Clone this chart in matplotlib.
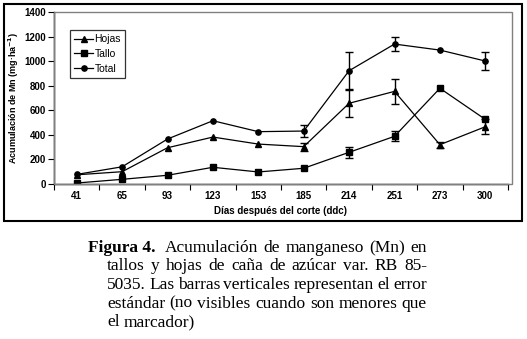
"""Acumulación de Mn en tallos y hojas de caña de azúcar, con leyenda de figura."""

import matplotlib

matplotlib.use("Agg")

import matplotlib.pyplot as plt
import numpy as np
from matplotlib.patches import Rectangle

# Datos
dias = ["41", "65", "93", "123", "153", "185", "214", "251", "273", "300"]
hojas = [75, 100, 295, 382, 325, 304, 657, 754, 320, 466]
tallo = [8, 38, 71, 136, 98, 128, 258, 388, 779, 526]
total = [78, 140, 366, 515, 426, 431, 922, 1139, 1090, 1001]
hojas_err = [0, 0, 0, 0, 0, 32, 110, 102, 24, 61]
tallo_err = [0, 0, 0, 0, 0, 0, 43, 40, 0, 0]
total_err = [0, 0, 0, 0, 0, 50, 150, 57, 0, 72]

caption_lines = [
    "Acumulación de manganeso (Mn) en",
    "tallos y hojas de caña de azúcar var. RB 85-",
    "5035. Las barras verticales representan el error",
    "estándar (no visibles cuando son menores que",
    "el marcador)",
]

W, H = 527, 339
fig = plt.figure(figsize=(W / 100, H / 100), dpi=100)


def px(x0, y0, x1, y1):
    """Pixel box (top-left origin) -> figure fraction [l, b, w, h]."""
    return [x0 / W, 1 - y1 / H, (x1 - x0) / W, (y1 - y0) / H]


# marco exterior y marco gris del área de trazado
fig.patches.append(Rectangle((4 / W, 1 - 221 / H), 518 / W, 217 / H,
                             transform=fig.transFigure, fill=False,
                             edgecolor="black", linewidth=1.5))
fig.patches.append(Rectangle((54 / W, 1 - 184 / H), 458 / W, 172 / H,
                             transform=fig.transFigure, fill=False,
                             edgecolor="#808080", linewidth=1.0))

ax = fig.add_axes(px(54, 12, 508, 184))
x = np.arange(len(dias))

series = [
    (hojas, hojas_err, "^", "Hojas"),
    (tallo, tallo_err, "s", "Tallo"),
    (total, total_err, "o", "Total"),
]
for vals, err, mk, lab in series:
    err = np.array(err, dtype=float)
    ax.plot(x, vals, color="black", marker=mk, markersize=3.8, linewidth=0.9,
            label=lab, zorder=3)
    m = err > 0
    _, caps, _ = ax.errorbar(x[m], np.array(vals)[m], yerr=err[m], fmt="none",
                             ecolor="black", elinewidth=1.0, capsize=3,
                             capthick=1.0, zorder=2)
    for c in caps:
        c.set_color("#707070")

ax.set_xlim(-0.5, len(dias) - 0.5)
ax.set_ylim(0, 1400)
ax.set_yticks(np.arange(0, 1401, 200))
ax.set_xticks(x)
ax.set_xticklabels(dias)
ax.set_xticks(np.arange(-0.5, len(dias)), minor=True)
ax.tick_params(axis="x", which="major", length=0, pad=5)
ax.tick_params(axis="x", which="minor", length=4, width=0.8, direction="out")
ax.tick_params(axis="y", length=4, width=0.8, direction="out", pad=2)
for lbl in ax.get_xticklabels() + ax.get_yticklabels():
    lbl.set_fontsize(7)
    lbl.set_fontweight("bold")
    lbl.set_family("Liberation Sans")

for s in ("top", "right"):
    ax.spines[s].set_visible(False)
for s in ("left", "bottom"):
    ax.spines[s].set_linewidth(1.0)

ax.set_xlabel("Días después del corte (ddc)", fontsize=7, fontweight="bold",
              family="Liberation Sans", labelpad=4)
ax.set_ylabel(r"Acumulación de Mn (mg·ha$^{\mathbf{-1}}$)", fontsize=6.5,
              fontweight="bold", family="Liberation Sans", labelpad=2)

leg = ax.legend(loc="upper left", bbox_to_anchor=(16 / 454, 1 - 18 / 172),
                frameon=True, fancybox=False, edgecolor="black",
                prop={"family": "Liberation Sans", "size": 7.5},
                handlelength=1.8, handletextpad=0.15, labelspacing=0.45,
                borderpad=0.4, borderaxespad=0)
leg.get_frame().set_linewidth(0.9)

# leyenda de la figura, justificada
renderer = fig.canvas.get_renderer()
font = dict(family="Liberation Serif", fontsize=12.5)


def width_px(s, **kw):
    t = fig.text(0, 0, s, **kw)
    w = t.get_window_extent(renderer).width
    t.remove()
    return w


right = 427
baselines = [252, 270.5, 289, 307.5, 326]
for i, line in enumerate(caption_lines):
    words = line.split(" ")
    left = 107
    if i == 0:
        head = "Figura 4."
        fig.text(88 / W, 1 - baselines[i] / H, head, va="baseline",
                 fontweight="bold", **font)
        left = 165
    widths = [width_px(w_, **font) for w_ in words]
    if i < len(caption_lines) - 1 and len(words) > 1:
        gap = (right - left - sum(widths)) / (len(words) - 1)
    else:
        gap = width_px("a a", **font) - 2 * width_px("a", **font)
    xpos = left
    for w_, wd in zip(words, widths):
        fig.text(xpos / W, 1 - baselines[i] / H, w_, va="baseline", **font)
        xpos += wd + gap

fig.savefig("out.png", dpi=100)
